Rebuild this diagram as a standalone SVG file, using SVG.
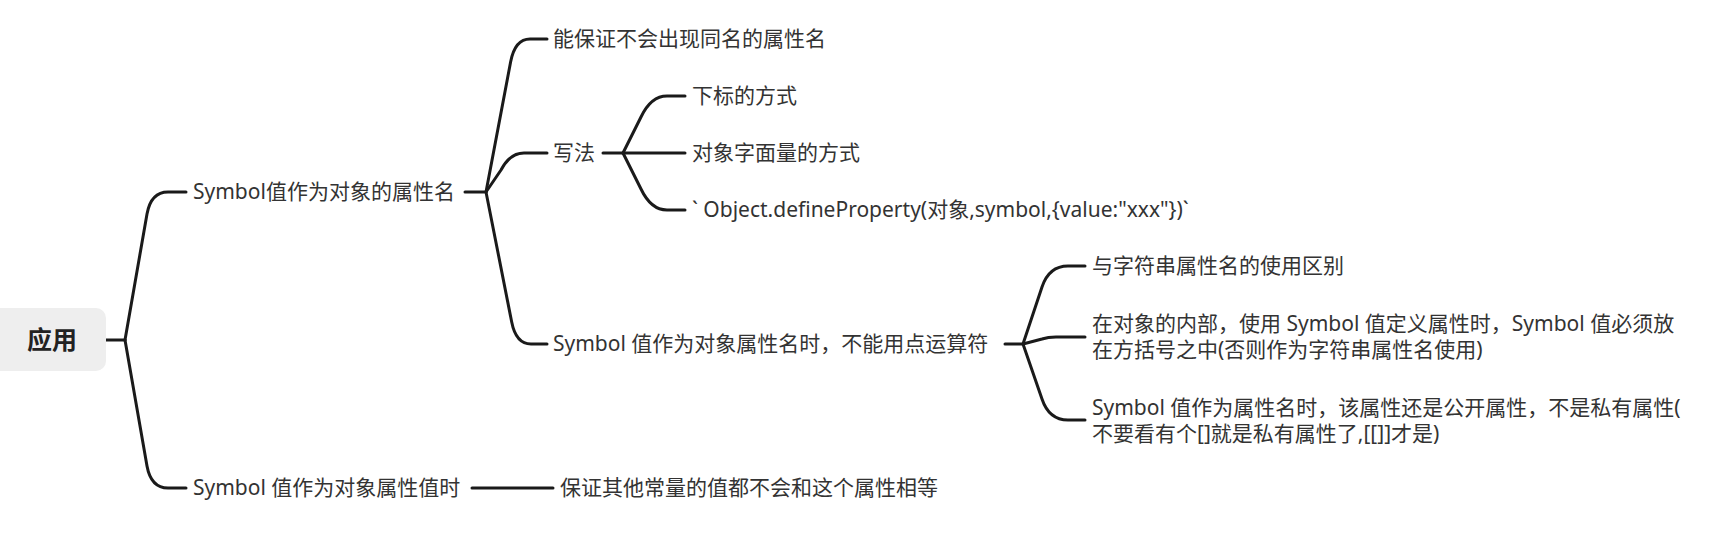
<svg xmlns="http://www.w3.org/2000/svg" width="1711" height="538" viewBox="0 0 1711 538">
<style>
.t{font-family:"Noto Sans","Noto Sans CJK SC",sans-serif;font-size:21px;fill:#333}
.root{font-family:"Noto Sans CJK SC","Noto Sans",sans-serif;font-size:25px;font-weight:bold;fill:#222}
.c{fill:none;stroke:#1a1a1a;stroke-width:3;stroke-linecap:round;stroke-linejoin:round}
</style>
<rect width="1711" height="538" fill="#ffffff"/>
<g id="connectors">
<path class="c" d="M106,340 H125"/>
<path class="c" d="M125,340 L147,214 Q151,192 168,192 H186"/>
<path class="c" d="M125,340 L147,466 Q151,488 168,488 H186"/>
<path class="c" d="M465,192 H486"/>
<path class="c" d="M486,192 L510.6,62 Q515,39 530,39 H547"/>
<path class="c" d="M486,192 L501,170 Q510,153 524,153 H547"/>
<path class="c" d="M486,192 L511.7,322 Q516,344 531,344 H547"/>
<path class="c" d="M603,153 H623"/>
<path class="c" d="M623,153 L641,117 Q651,96 667,96 H685"/>
<path class="c" d="M623,153 H685"/>
<path class="c" d="M623,153 L641,189 Q651,210 667,210 H685"/>
<path class="c" d="M1005,344 H1023"/>
<path class="c" d="M1023,344 L1042,287 Q1049,266 1068,266 H1085"/>
<path class="c" d="M1023,344 L1042,339 Q1048,337 1056,337 H1085"/>
<path class="c" d="M1023,344 L1042,399 Q1049,420 1068,420 H1085"/>
<path class="c" d="M472,488 H553"/>
</g>
<g id="root">
<rect x="-10" y="308" width="116" height="63" rx="10" fill="#eeeeee"/>
<text class="root" x="52" y="349" text-anchor="middle">应用</text>
</g>
<g id="n-attr-name"><text class="t" x="193" y="199">Symbol值作为对象的属性名</text></g>
<g id="n-attr-value"><text class="t" x="193" y="495">Symbol 值作为对象属性值时</text></g>
<g id="n-unique"><text class="t" x="553" y="46">能保证不会出现同名的属性名</text></g>
<g id="n-write"><text class="t" x="553" y="160">写法</text></g>
<g id="n-index"><text class="t" x="692" y="103">下标的方式</text></g>
<g id="n-literal"><text class="t" x="692" y="160">对象字面量的方式</text></g>
<g id="n-define"><text class="t" x="692" y="217">` Object.defineProperty(对象,symbol,{value:"xxx"})`</text></g>
<g id="n-nodot"><text class="t" x="553" y="351">Symbol 值作为对象属性名时，不能用点运算符</text></g>
<g id="n-diff"><text class="t" x="1092" y="273">与字符串属性名的使用区别</text></g>
<g id="n-inside"><text class="t" x="1092" y="331">在对象的内部，使用 Symbol 值定义属性时，Symbol 值必须放</text><text class="t" x="1092" y="357">在方括号之中(否则作为字符串属性名使用)</text></g>
<g id="n-public"><text class="t" x="1092" y="415">Symbol 值作为属性名时，该属性还是公开属性，不是私有属性(</text><text class="t" x="1092" y="441">不要看有个[]就是私有属性了,[[]]才是)</text></g>
<g id="n-guarantee"><text class="t" x="560" y="495">保证其他常量的值都不会和这个属性相等</text></g>
</svg>
